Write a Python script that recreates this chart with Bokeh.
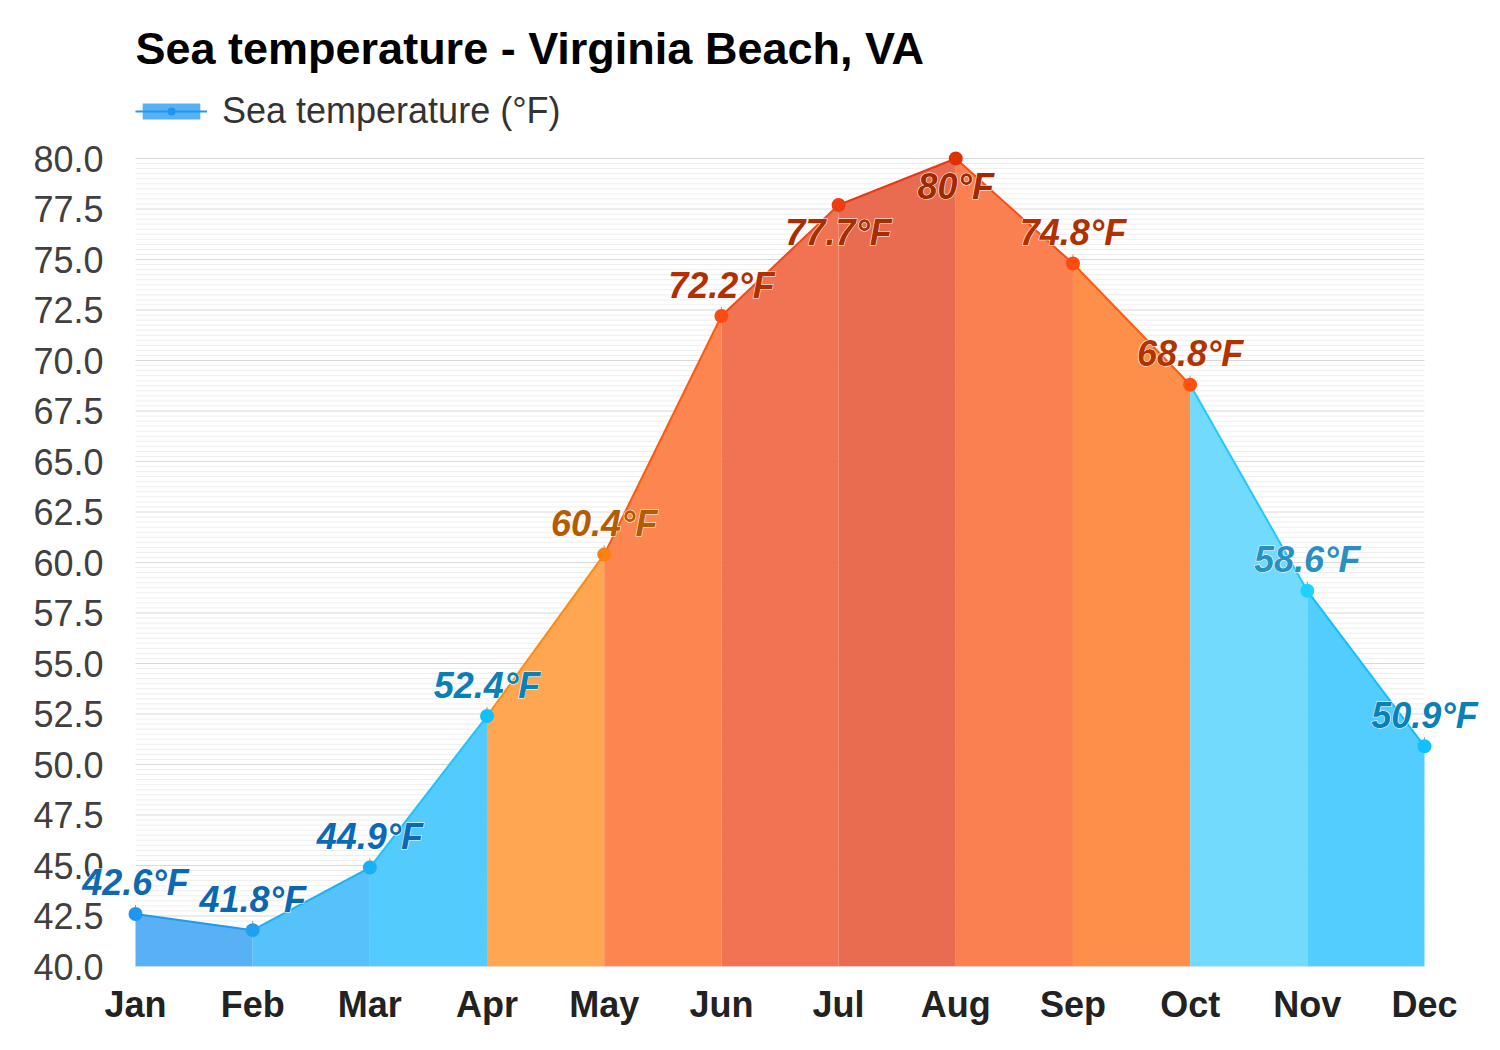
import numpy as np
from bokeh.plotting import figure
from bokeh.models import (Range1d, FixedTicker, NumeralTickFormatter, LabelSet, Label,
                          Legend, LegendItem, ColumnDataSource)
from bokeh.core.properties import value
from bokeh.embed import file_html
from bokeh.resources import INLINE

# ---------------- data ----------------
months = ["Jan", "Feb", "Mar", "Apr", "May", "Jun", "Jul", "Aug", "Sep", "Oct", "Nov", "Dec"]
sea_temp_f = [42.6, 41.8, 44.9, 52.4, 60.4, 72.2, 77.7, 80.0, 74.8, 68.8, 58.6, 50.9]
value_labels = ["42.6°F", "41.8°F", "44.9°F", "52.4°F", "60.4°F", "72.2°F",
                "77.7°F", "80°F", "74.8°F", "68.8°F", "58.6°F", "50.9°F"]
y_ticks = [40.0, 42.5, 45.0, 47.5, 50.0, 52.5, 55.0, 57.5, 60.0, 62.5, 65.0, 67.5,
           70.0, 72.5, 75.0, 77.5, 80.0]
title_text = "Sea temperature - Virginia Beach, VA"
series_name = "Sea temperature (°F)"

# ---------------- styles ----------------
FONT = "Liberation Sans"
seg_fill = ["#52aef5", "#4ec0fb", "#4cc9fd", "#fea24a", "#fd8049", "#f06d4c",
            "#e8664a", "#fb7b4a", "#fe8a44", "#6cdafd", "#4ccbfd"]
seg_line = ["#1e9af0", "#1eb0f8", "#1ec4ff", "#ff8a10", "#ff5a10", "#f04a18",
            "#e83a10", "#ff4a10", "#ff5a10", "#20c8ff", "#10c0ff"]
point_colors = ["#1e96f0", "#20a0f0", "#18b0f8", "#10c0ff", "#ff8010", "#ff4a10",
                "#f03a10", "#e03008", "#ff4a10", "#ff5010", "#20d0ff", "#10c0ff"]
label_colors = ["#0e6ab0", "#0a68b0", "#0a6ab8", "#0a80b4", "#b55c00", "#b23000",
                "#a82e00", "#a02a00", "#b03000", "#b03400", "#2a90c0", "#0a80b8"]

x = list(range(len(months)))
base = y_ticks[0]

# layout (pixels)
W, H = 1484, 1034
FRAME_L, FRAME_B = 76, 966          # frame left / bottom (canvas px)
PX_PER_X = (1424 - 135) / (x[-1] - x[0])
PX_PER_Y = 808 / (y_ticks[-1] - y_ticks[0])
x_lo = x[0] - (135 - FRAME_L) / PX_PER_X
x_hi = x[-1] + (W - 2 - 1424) / PX_PER_X
y_hi = y_ticks[0] + FRAME_B / PX_PER_Y   # frame reaches the top of the canvas

p = figure(width=W, height=H, output_backend="svg", toolbar_location=None,
           x_range=Range1d(x_lo, x_hi), y_range=Range1d(y_ticks[0], y_hi),
           min_border_left=FRAME_L, min_border_right=2, min_border_top=0,
           min_border_bottom=H - FRAME_B)
p.outline_line_color = None
p.background_fill_color = "white"
p.border_fill_color = "white"

# grid lines limited to the Jan..Dec span and 40..80
minor_vals = [v for v in np.arange(y_ticks[0], y_ticks[-1] + 0.001, 0.25) if v not in y_ticks]
p.segment(x0=[x[0]] * len(minor_vals), y0=minor_vals, x1=[x[-1]] * len(minor_vals), y1=minor_vals,
          line_color="#eeeeee", line_width=1)
p.segment(x0=[x[0]] * len(y_ticks), y0=y_ticks, x1=[x[-1]] * len(y_ticks), y1=y_ticks,
          line_color="#d9d9d9", line_width=1)

# area segments
areas, lines = [], []
for i in range(len(months) - 1):
    areas.append(p.varea(x=[x[i], x[i + 1]], y1=[base, base],
                         y2=[sea_temp_f[i], sea_temp_f[i + 1]],
                         fill_color=seg_fill[i], fill_alpha=0.96))
for i in range(len(months) - 1):
    lines.append(p.line(x=[x[i], x[i + 1]], y=[sea_temp_f[i], sea_temp_f[i + 1]],
                        line_color=seg_line[i], line_width=2))

# labels that would leave the plot top are placed below their point
below = [(y_ticks[-1] - v) * PX_PER_Y < 50 for v in sea_temp_f]

# connector ticks
tick_end = [v - 0.45 if b else v + 0.45 for v, b in zip(sea_temp_f, below)]
p.segment(x0=x, y0=sea_temp_f, x1=x, y1=tick_end, line_color="#999999", line_width=1)

pts = p.scatter(x=x, y=sea_temp_f, size=14, fill_color=point_colors, line_color=None)

# data labels (white halo underneath, coloured text on top)
dy = [-28 if b else 31 for b in below]
src = ColumnDataSource(dict(x=x, y=sea_temp_f, text=value_labels, color=label_colors, dy=dy))
common = dict(x="x", y="y", text="text", source=src, text_font=value(FONT),
              text_font_size="36px", text_font_style="bold italic",
              text_align="center", text_baseline="middle", y_offset="dy")
p.add_layout(LabelSet(text_color="white", text_outline_color="white", **common))
p.add_layout(LabelSet(text_color="color", **common))

# axes
p.yaxis.ticker = FixedTicker(ticks=y_ticks)
p.yaxis.formatter = NumeralTickFormatter(format="0.0")
p.yaxis.major_label_text_font = FONT
p.yaxis.major_label_text_font_size = "36px"
p.yaxis.major_label_text_color = "#404040"
p.yaxis.axis_line_color = None
p.yaxis.major_tick_line_color = None
p.yaxis.minor_tick_line_color = None
p.yaxis.major_tick_out = 0
p.yaxis.minor_tick_out = 0
p.yaxis.major_label_standoff = -27

p.xaxis.ticker = FixedTicker(ticks=x)
p.xaxis.major_label_overrides = {i: m for i, m in enumerate(months)}
p.xaxis.major_label_text_font = FONT
p.xaxis.major_label_text_font_size = "36px"
p.xaxis.major_label_text_font_style = "bold"
p.xaxis.major_label_text_color = "#222222"
p.xaxis.axis_line_color = None
p.xaxis.major_tick_line_color = None
p.xaxis.minor_tick_line_color = None
p.xaxis.major_tick_out = 0
p.xaxis.major_label_standoff = 17

p.xgrid.grid_line_color = None
p.ygrid.grid_line_color = None

# title (inside the tall frame, above the data area)
p.add_layout(Label(x=135 - FRAME_L, y=FRAME_B - 48, x_units="screen", y_units="screen",
                   text=title_text, text_font=FONT, text_font_size="45px",
                   text_font_style="bold", text_color="#000000", text_baseline="middle"))

# legend (uses the first segment's area, line and point as its glyph)
legend = Legend(items=[LegendItem(label=series_name, renderers=[areas[0], lines[0], pts],
                                  index=0)],
                location=(135 - FRAME_L, FRAME_B - 132), padding=0, margin=0,
                border_line_color=None, background_fill_alpha=0, glyph_width=72,
                glyph_height=20, label_height=40, label_standoff=15, label_text_font=FONT,
                label_text_font_size="36px", label_text_color="#333333")
p.add_layout(legend)

open("out.html", "w").write(file_html(p, INLINE))
